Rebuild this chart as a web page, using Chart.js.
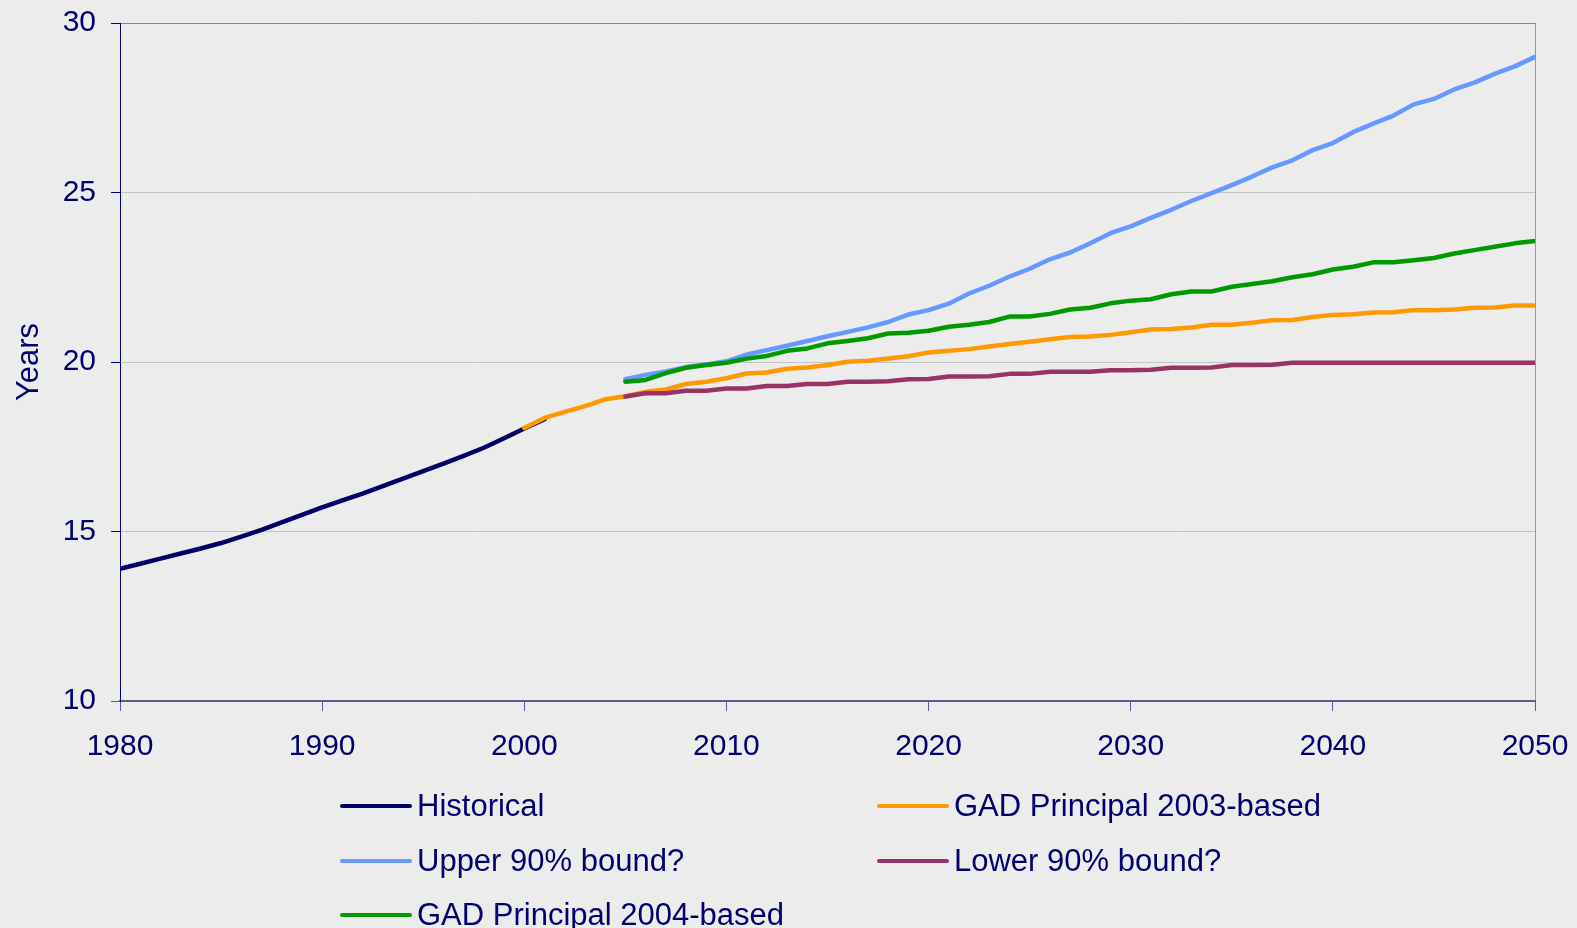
<!DOCTYPE html>
<html lang="en">
<head>
    <meta charset="UTF-8">
    <title>Years</title>
    <script src="https://cdn.jsdelivr.net/npm/chart.js"></script>
    <style>
        body { margin: 0; background: #ececec; font-family: "Liberation Sans", Arial, sans-serif; }
        #wrap { position: relative; width: 1577px; height: 928px; }
        #leyenda { position: absolute; left: 340px; top: 779px; display: grid;
                   grid-template-columns: 537px auto; grid-auto-rows: 54.5px;
                   color: #000070; font-size: 31px; }
        .item { display: flex; align-items: center; white-space: nowrap; }
        .linea { width: 72px; height: 4px; border-radius: 2px; margin-right: 5px; }
    </style>
</head>
<body>
    <div id="wrap">
        <canvas id="grafico"></canvas>
        <div id="leyenda"></div>
    </div>

    <script>
        // series (one value per year)
        const historico = [13.9, 14.05, 14.2, 14.35, 14.5, 14.66, 14.85, 15.05, 15.27, 15.49, 15.71,
            15.92, 16.12, 16.34, 16.56, 16.78, 17.0, 17.23, 17.47, 17.75, 18.04, 18.31]; // 1980-2001
        const gad2003 = [18.05, 18.35, 18.53, 18.7, 18.9, 18.99, 19.12, 19.19, 19.35, 19.42, 19.52,
            19.66, 19.69, 19.8, 19.84, 19.91, 20.01, 20.04, 20.1, 20.17, 20.28,
            20.33, 20.38, 20.46, 20.53, 20.6, 20.67, 20.74, 20.75, 20.8, 20.88,
            20.96, 20.97, 21.02, 21.1, 21.1, 21.16, 21.23, 21.24, 21.33, 21.39,
            21.41, 21.46, 21.47, 21.53, 21.53, 21.55, 21.6, 21.61, 21.67, 21.67]; // 2000-2050
        const superior = [19.49, 19.62, 19.72, 19.85, 19.93, 20.02, 20.22, 20.35, 20.48, 20.62,
            20.76, 20.89, 21.02, 21.18, 21.4, 21.53, 21.72, 22.02, 22.25, 22.52,
            22.75, 23.03, 23.23, 23.5, 23.8, 24.0, 24.25, 24.49, 24.75, 24.98,
            25.22, 25.47, 25.74, 25.95, 26.25, 26.46, 26.78, 27.03, 27.27, 27.6,
            27.76, 28.04, 28.24, 28.5, 28.72, 29.0]; // 2005-2050
        const inferior = [18.98, 19.08, 19.08, 19.15, 19.15, 19.22, 19.22, 19.29, 19.29, 19.35,
            19.35, 19.42, 19.42, 19.43, 19.49, 19.5, 19.57, 19.57, 19.58, 19.65,
            19.65, 19.71, 19.71, 19.71, 19.76, 19.76, 19.77, 19.83, 19.83, 19.84,
            19.91, 19.91, 19.92, 19.98, 19.98, 19.98, 19.98, 19.98, 19.98, 19.98,
            19.98, 19.98, 19.98, 19.98, 19.98, 19.98]; // 2005-2050
        const gad2004 = [19.42, 19.47, 19.67, 19.83, 19.91, 19.98, 20.1, 20.18, 20.33, 20.4,
            20.55, 20.62, 20.7, 20.84, 20.86, 20.92, 21.04, 21.1, 21.18, 21.34,
            21.34, 21.42, 21.55, 21.6, 21.73, 21.81, 21.85, 22.0, 22.08, 22.08,
            22.22, 22.3, 22.38, 22.5, 22.59, 22.73, 22.81, 22.94, 22.94, 23.0,
            23.07, 23.2, 23.3, 23.4, 23.5, 23.57]; // 2005-2050

        const nombres = ['Historical', 'GAD Principal 2003-based', 'Upper 90% bound?',
            'Lower 90% bound?', 'GAD Principal 2004-based'];
        const inicios = [1980, 2000, 2005, 2005, 2005];
        const colores = ['#000066', '#ff9900', '#6699ff', '#993366', '#009900'];
        const ticksX = [1980, 1990, 2000, 2010, 2020, 2030, 2040, 2050];
        const ticksY = [10, 15, 20, 25, 30];

        const texto = '#000070';
        const fuente = { family: '"Liberation Sans", Arial, sans-serif', size: 30 };

        const pares = (inicio, valores) => valores.map((v, i) => ({ x: inicio + i, y: v }));
        const series = [historico, gad2003, superior, inferior, gad2004];

        const datasets = series.map((s, i) => ({
            label: nombres[i],
            data: pares(inicios[i], s),
            borderColor: colores[i],
            backgroundColor: colores[i],
            borderWidth: 4.5,
            pointRadius: 0,
            tension: 0,
            borderJoinStyle: 'round',
            borderCapStyle: 'round',
            order: series.length - i // later series drawn on top
        }));

        const ctx = document.getElementById('grafico').getContext('2d');
        const grafico = new Chart(ctx, {
            type: 'line',
            data: { datasets: datasets },
            options: {
                responsive: true,
                maintainAspectRatio: false,
                animation: false,
                layout: { padding: { top: 23, right: 42, bottom: 167, left: 0 } },
                plugins: { legend: { display: false }, tooltip: { enabled: false } },
                scales: {
                    x: {
                        type: 'linear',
                        min: ticksX[0],
                        max: ticksX[ticksX.length - 1],
                        afterFit: s => { s.height = 60; s.paddingLeft = 0; s.paddingRight = 0; },
                        afterBuildTicks: s => { s.ticks = ticksX.map(v => ({ value: v })); },
                        ticks: { color: texto, font: fuente, padding: 18, maxRotation: 0,
                                 callback: v => String(v) },
                        grid: {
                            color: c => c.tick && c.tick.value === 2050 ? '#999999' : 'rgba(0,0,0,0)',
                            tickColor: '#5c5c94',
                            tickLength: 10
                        },
                        border: { color: '#5c5c94', width: 2 }
                    },
                    y: {
                        min: ticksY[0],
                        max: ticksY[ticksY.length - 1],
                        afterFit: s => { s.width = 120; s.paddingTop = 0; s.paddingBottom = 0; },
                        afterBuildTicks: s => { s.ticks = ticksY.map(v => ({ value: v })); },
                        ticks: { color: texto, font: fuente, padding: 15 },
                        grid: {
                            color: c => {
                                const v = c.tick && c.tick.value;
                                if (v === 30) return '#888888';
                                if (v === 10) return 'rgba(0,0,0,0)';
                                return '#c4c4c4';
                            },
                            tickColor: c => c.tick && c.tick.value === 10 ? '#5c5c94' : '#000080',
                            tickLength: 9
                        },
                        border: { color: '#000080', width: 1 },
                        title: { display: true, text: 'Years', color: texto,
                                 font: { family: fuente.family, size: 31 },
                                 padding: { top: 11, bottom: 0 } }
                    }
                }
            }
        });

        // leyenda en dos columnas, como en el original
        const leyenda = document.getElementById('leyenda');
        grafico.data.datasets.forEach(d => {
            const item = document.createElement('div');
            item.className = 'item';
            item.innerHTML = '<span class="linea" style="background:' + d.borderColor + '"></span>' + d.label;
            leyenda.appendChild(item);
        });
    </script>
</body>
</html>
